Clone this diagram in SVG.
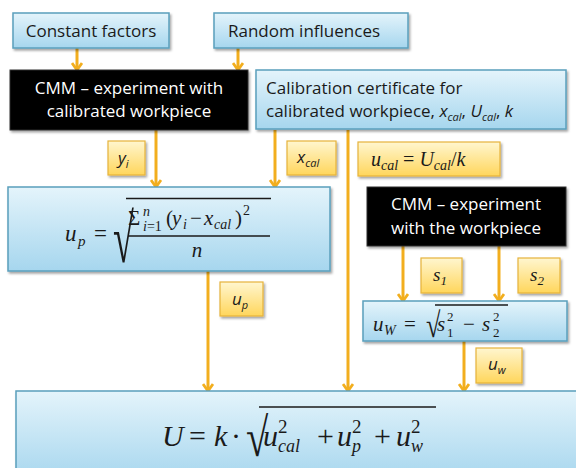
<svg xmlns="http://www.w3.org/2000/svg" width="576" height="468" viewBox="0 0 576 468">
<defs>
<linearGradient id="gb" x1="0" y1="0" x2="0" y2="1"><stop offset="0" stop-color="#e4f4fb"/><stop offset="1" stop-color="#a6d6ee"/></linearGradient>
<linearGradient id="gy" x1="0" y1="0" x2="0" y2="1"><stop offset="0" stop-color="#fff6cf"/><stop offset="1" stop-color="#ffd65c"/></linearGradient>
<filter id="sh" x="-10%" y="-10%" width="130%" height="140%"><feDropShadow dx="1.5" dy="2" stdDeviation="1.2" flood-color="#000" flood-opacity="0.35"/></filter>
<marker id="ah" viewBox="0 0 12 12" refX="10" refY="6" markerWidth="12" markerHeight="12" markerUnits="userSpaceOnUse" orient="auto"><path d="M3,1 L10,6 L3,11" fill="none" stroke="#f2ae1e" stroke-width="2.8"/></marker>
</defs>
<style>
.bl{fill:url(#gb);stroke:#5a9fbc;stroke-width:1.5;filter:url(#sh)}
.yl{fill:url(#gy);stroke:#e6b33a;stroke-width:1.2;filter:url(#sh)}
.bk{fill:#000;stroke:#333;stroke-width:1;filter:url(#sh)}
.t{font-family:"Open Sans","Liberation Sans",sans-serif;font-size:17px;fill:#1a1a1a}
.w{fill:#fff;text-anchor:middle}
.m{font-family:"Liberation Serif","DejaVu Serif",serif;fill:#1a1a1a}
.i{font-style:italic}
.c{stroke:#f2ae1e;stroke-width:3;fill:none}
.bar{stroke:#1a1a1a;stroke-width:1.4}
</style>
<g id="connectors">
<line class="c" x1="77" y1="48" x2="77" y2="70" marker-end="url(#ah)"/>
<line class="c" x1="238" y1="48" x2="238" y2="70" marker-end="url(#ah)"/>
<line class="c" x1="156" y1="130" x2="156" y2="187" marker-end="url(#ah)"/>
<line class="c" x1="275" y1="130" x2="275" y2="187" marker-end="url(#ah)"/>
<line class="c" x1="348" y1="130" x2="348" y2="391" marker-end="url(#ah)"/>
<line class="c" x1="403" y1="246" x2="403" y2="301" marker-end="url(#ah)"/>
<line class="c" x1="499" y1="246" x2="499" y2="301" marker-end="url(#ah)"/>
<line class="c" x1="208" y1="271" x2="208" y2="391" marker-end="url(#ah)"/>
<line class="c" x1="464" y1="341" x2="464" y2="391" marker-end="url(#ah)"/>
</g>
<g id="constant">
<rect class="bl" x="13" y="13" width="156" height="35"/>
<text class="t" x="91" y="37" text-anchor="middle">Constant factors</text>
</g>
<g id="random">
<rect class="bl" x="214" y="13" width="194" height="35"/>
<text class="t" x="304" y="37" text-anchor="middle">Random influences</text>
</g>
<g id="cmm1">
<rect class="bk" x="10" y="70" width="238" height="60"/>
<text class="t w" x="129" y="94" font-size="17.5">CMM – experiment with</text>
<text class="t w" x="129" y="117" font-size="17.5">calibrated workpiece</text>
</g>
<g id="calcert">
<rect class="bl" x="256" y="70" width="310" height="59"/>
<text class="t" x="266" y="94">Calibration certificate for</text>
<text class="t" x="266" y="117">calibrated workpiece, <tspan class="i">x</tspan><tspan class="i" font-size="11" dy="4">cal</tspan><tspan dy="-4">, </tspan><tspan class="i">U</tspan><tspan class="i" font-size="11" dy="4">cal</tspan><tspan dy="-4">, </tspan><tspan class="i">k</tspan></text>
</g>
<g id="lbl-yi">
<rect class="yl" x="108" y="141" width="37" height="34"/>
<text class="t i" x="118" y="164">y<tspan font-size="11" dy="4">i</tspan></text>
</g>
<g id="lbl-xcal">
<rect class="yl" x="287" y="141" width="49" height="34"/>
<text class="t i" x="297" y="163">x<tspan font-size="11" dy="4">cal</tspan></text>
</g>
<g id="lbl-ucal">
<rect class="yl" x="358" y="142" width="142" height="34"/>
<text class="m" font-size="20" x="371" y="166"><tspan class="i">u</tspan><tspan class="i" font-size="14" dy="4">cal</tspan><tspan dy="-4"> = </tspan><tspan class="i">U</tspan><tspan class="i" font-size="14" dy="4">cal</tspan><tspan dy="-4">/</tspan><tspan class="i">k</tspan></text>
</g>
<g id="up-box">
<rect class="bl" x="8" y="187" width="322" height="84"/>
<text class="m i" font-size="23" x="65" y="241">u</text>
<text class="m i" font-size="15" x="78" y="246">p</text>
<text class="m" font-size="23" x="94" y="241">=</text>
<text class="m" font-size="69" transform="translate(113,261.5) scale(0.55,1)">√</text>
<line class="bar" x1="126" y1="198.5" x2="271" y2="198.5"/>
<text class="m" font-size="21" x="128" y="225">Σ</text>
<text class="m i" font-size="14" x="143" y="216">n</text>
<text class="m" font-size="14" x="143" y="231"><tspan class="i">i</tspan>=1</text>
<text class="m" font-size="21" x="166" y="225">(</text>
<text class="m i" font-size="21" x="172" y="225">y</text>
<text class="m i" font-size="14" x="183" y="229">i</text>
<text class="m" font-size="21" x="190" y="225">−</text>
<text class="m i" font-size="21" x="204" y="225">x</text>
<text class="m i" font-size="14" x="214" y="229">cal</text>
<text class="m" font-size="21" x="235" y="225">)</text>
<text class="m" font-size="14" x="243" y="215">2</text>
<line class="bar" x1="128" y1="236" x2="270" y2="236"/>
<text class="m i" font-size="21" x="197" y="257" text-anchor="middle">n</text>
</g>
<g id="cmm2">
<rect class="bk" x="367" y="187" width="199" height="59"/>
<text class="t w" x="466" y="210" font-size="17.5">CMM – experiment</text>
<text class="t w" x="466" y="234" font-size="17.5">with the workpiece</text>
</g>
<g id="lbl-s1">
<rect class="yl" x="421" y="258" width="41" height="35"/>
<text class="m i" font-size="19" x="433" y="281">s<tspan font-size="13" dy="4">1</tspan></text>
</g>
<g id="lbl-s2">
<rect class="yl" x="518" y="258" width="42" height="35"/>
<text class="m i" font-size="19" x="530" y="281">s<tspan font-size="13" dy="4">2</tspan></text>
</g>
<g id="uw-box">
<rect class="bl" x="363" y="301" width="204" height="40"/>
<text class="m i" font-size="21" x="373" y="331">u</text>
<text class="m i" font-size="14" x="384" y="335">W</text>
<text class="m" font-size="21" x="404" y="331">=</text>
<text class="m" font-size="35" transform="translate(426,337) scale(0.75,1)">√</text>
<line class="bar" x1="435" y1="305" x2="508" y2="305"/>
<text class="m i" font-size="21" x="437" y="331">s</text>
<text class="m" font-size="13" x="447" y="321">2</text>
<text class="m" font-size="13" x="447" y="337">1</text>
<text class="m" font-size="21" x="463" y="331">−</text>
<text class="m i" font-size="21" x="482" y="331">s</text>
<text class="m" font-size="13" x="493" y="321">2</text>
<text class="m" font-size="13" x="493" y="337">2</text>
</g>
<g id="lbl-up">
<rect class="yl" x="220" y="282" width="43" height="34"/>
<text class="t i" x="232" y="305">u<tspan font-size="11" dy="4">p</tspan></text>
</g>
<g id="lbl-uw">
<rect class="yl" x="476" y="348" width="46" height="35"/>
<text class="t i" x="488" y="370">u<tspan font-size="11" dy="4">w</tspan></text>
</g>
<g id="result">
<rect class="bl" x="16" y="391" width="570" height="90"/>
<text class="m i" font-size="30" x="162" y="446">U</text>
<text class="m" font-size="30" x="189" y="446">=</text>
<text class="m i" font-size="30" x="214" y="446">k</text>
<text class="m" font-size="30" x="231" y="446">·</text>
<text class="m" font-size="54" transform="translate(246,456) scale(0.75,1)">√</text>
<line class="bar" x1="259" y1="407" x2="436" y2="407"/>
<text class="m i" font-size="30" x="263" y="446">u</text>
<text class="m" font-size="19" x="278" y="433">2</text>
<text class="m i" font-size="18" x="278" y="452">cal</text>
<text class="m" font-size="30" x="317" y="446">+</text>
<text class="m i" font-size="30" x="337" y="446">u</text>
<text class="m" font-size="19" x="352" y="433">2</text>
<text class="m i" font-size="18" x="352" y="452">p</text>
<text class="m" font-size="30" x="374" y="446">+</text>
<text class="m i" font-size="30" x="396" y="446">u</text>
<text class="m" font-size="19" x="411" y="433">2</text>
<text class="m i" font-size="18" x="411" y="452">w</text>
</g>
</svg>
